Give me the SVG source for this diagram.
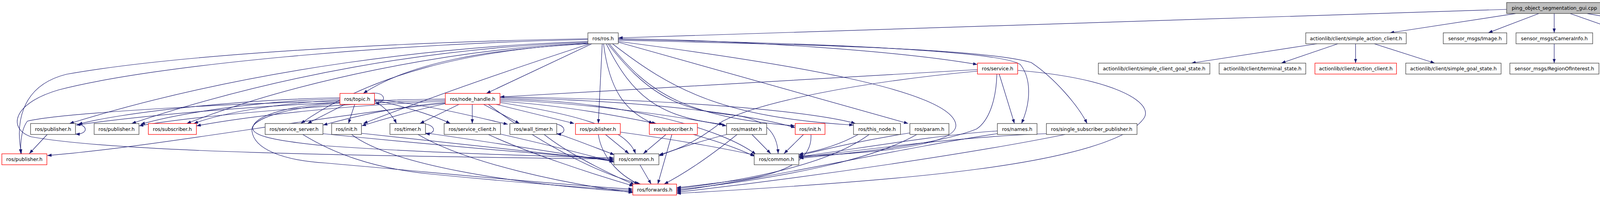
<svg xmlns="http://www.w3.org/2000/svg" width="6200" height="504" viewBox="0 0 6200 504">
<defs>
<marker id="a" viewBox="0 0 11 8" refX="11" refY="4" markerWidth="11" markerHeight="8" markerUnits="userSpaceOnUse" orient="auto"><path d="M0,0L11,4L0,8z" fill="#191970"/></marker>
</defs>
<style>
.n rect{fill:#fff;stroke:#404040;stroke-width:1.3}
.n.r rect{stroke:#ff0000}
.n.g rect{stroke:#bfbfbf}
.n.root rect{fill:#bfbfbf}
.n text{font-family:"DejaVu Sans","Liberation Sans",sans-serif;font-size:12.6px;text-anchor:middle;fill:#000}
#edges path{fill:none;stroke:#191970;stroke-width:1.2;marker-end:url(#a)}
</style>
<rect width="6200" height="504" fill="#fff"/>
<g id="edges">
<path d="M3857,24L1583,97"/>
<path d="M3880,34.7L3558,84"/>
<path d="M3939,34.7L3810,84"/>
<path d="M3978.7,34.7L3978.7,84"/>
<path d="M4020,34.7L4160,84"/>
<path d="M4063,34.7L4350,84"/>
<path d="M4101,29L4832,84"/>
<path d="M3978.7,112L3978.7,161.5"/>
<path d="M4200,112L4204,161.5"/>
<path d="M3371.7,112L3050,161.5"/>
<path d="M3425,112L3280,161.5"/>
<path d="M3470.3,112L3470.3,161.5"/>
<path d="M3518,112L3673,161.5"/>
<path d="M4963,112L4830,161.5"/>
<path d="M5052,112L5190,161.5"/>
<path d="M5140,112L5572,161.5"/>
<path d="M1505,99C1000,108 450,140 170,190C50,220 40,320 55,393"/>
<path d="M1505,101C1000,112 400,165 150,230C30,265 20,330 80,350C300,390 900,398 1571,407"/>
<path d="M1505,106C1150,118 650,170 178,316"/>
<path d="M1505,108C1100,122 700,195 337,316"/>
<path d="M1505,110C1150,125 750,210 478,316"/>
<path d="M1505,111C1200,128 950,190 770,316"/>
<path d="M1510,112C1300,180 1100,250 930,316"/>
<path d="M1507,112C1250,125 1050,160 930,239"/>
<path d="M1515,112L1245,239"/>
<path d="M1541.7,112L1531.7,316"/>
<path d="M1545,112C1560,230 1600,285 1672,316"/>
<path d="M1552,112C1620,250 1690,300 1852,318"/>
<path d="M1556,112C1650,230 1720,280 1880,295C1960,305 1990,340 1992,393"/>
<path d="M1560,112C1660,240 1760,300 2035,322"/>
<path d="M1568,112C1720,230 1850,300 2185,320"/>
<path d="M1583,108L2325,316"/>
<path d="M1583,106C2000,160 2440,230 2447,320C2450,370 2250,392 2045,400"/>
<path d="M1583,99C1900,103 2300,130 2502,165"/>
<path d="M1583,101C2100,110 2560,130 2612,165C2640,200 2640,260 2615,316"/>
<path d="M1583,103C2100,115 2520,125 2640,160C2700,200 2760,270 2783,316"/>
<path d="M870,250C600,255 300,290 200,318"/>
<path d="M870,253C650,258 450,292 360,318"/>
<path d="M870,256C700,264 560,292 496,316"/>
<path d="M870,259C600,263 150,290 70,310C55,330 52,360 53,393"/>
<path d="M883,267L787,316"/>
<path d="M908,267L892,316"/>
<path d="M946,239C990,232 992,264 959,264"/>
<path d="M959,258C985,275 1005,295 1015,316"/>
<path d="M959,256C1050,275 1120,300 1153,316"/>
<path d="M959,254C1100,268 1220,300 1300,318"/>
<path d="M870,262C720,272 650,300 647,327C645,347 700,360 833,373C1100,392 1400,400 1571,404"/>
<path d="M870,264C700,280 640,310 645,335C650,380 720,410 833,417C1100,440 1400,470 1620,484"/>
<path d="M1175,267L1075,316"/>
<path d="M1209,267L1209,316"/>
<path d="M1238,267L1330,316"/>
<path d="M1270,267L1470,316"/>
<path d="M1140,253C800,258 400,290 195,320"/>
<path d="M1140,256C900,262 500,296 356,322"/>
<path d="M1140,259C900,268 650,295 503,322"/>
<path d="M1140,262C1000,275 900,300 827,320"/>
<path d="M1140,265C1050,285 980,305 926,322"/>
<path d="M1140,264C800,300 400,375 121,398"/>
<path d="M1280,259C1450,270 1600,300 1680,316"/>
<path d="M1280,262C1450,290 1600,320 1627,393"/>
<path d="M1250,267C1400,380 1550,450 1640,471"/>
<path d="M1280,256C1500,262 1750,300 1860,322"/>
<path d="M1280,253C1600,258 1850,330 1935,395"/>
<path d="M1280,250C1700,258 1950,300 2036,327"/>
<path d="M1280,248C1800,255 2100,290 2190,316"/>
<path d="M121,344L75,393"/>
<path d="M185,316C228,316 228,344 193,343"/>
<path d="M775,344C850,390 950,430 1100,445C1300,465 1500,480 1620,488"/>
<path d="M826,342C1100,370 1400,395 1571,408"/>
<path d="M925,341C1200,372 1450,398 1571,411"/>
<path d="M900,344C1000,420 1300,470 1620,491"/>
<path d="M1089,340C1300,370 1450,395 1571,413"/>
<path d="M1070,344C1200,420 1450,470 1620,493"/>
<path d="M1080,316C1118,318 1118,344 1089,342"/>
<path d="M1281,343C1400,370 1500,395 1571,415"/>
<path d="M1250,344C1350,390 1500,440 1622,476"/>
<path d="M1425,341C1480,360 1530,380 1573,396"/>
<path d="M1393,344C1450,390 1550,440 1625,473"/>
<path d="M1410,316C1452,316 1452,344 1425,343"/>
<path d="M1550,344L1610,393"/>
<path d="M1531.7,344C1540,400 1583,447 1635,471"/>
<path d="M1588,338C1750,360 1880,385 1932,397"/>
<path d="M1705,344L1647,393"/>
<path d="M1720,344L1684,471"/>
<path d="M1775,344C1850,365 1900,385 1932,400"/>
<path d="M1860,344C1780,365 1720,385 1687,399"/>
<path d="M1887,344C1830,390 1760,440 1700,471"/>
<path d="M1925,344L1973,393"/>
<path d="M1638,421L1667,471"/>
<path d="M2057,344L2007,393"/>
<path d="M2076,344C2080,400 2030,440 1900,460C1800,472 1760,478 1732,480"/>
<path d="M2197,344C2150,370 2100,385 2045,395"/>
<path d="M2225,344C2150,400 2000,450 1732,483"/>
<path d="M2330,340C2200,360 2100,385 2045,398"/>
<path d="M2347,344C2250,400 2050,450 1732,486"/>
<path d="M2553,335C2400,345 2200,380 2045,401"/>
<path d="M2553,342C2300,380 2000,450 1732,489"/>
<path d="M2679,342C2450,350 2200,385 2045,403"/>
<path d="M2727,344C2500,390 2100,450 1732,492"/>
<path d="M2558,189.5L2597,316"/>
<path d="M2552,189.5C2550,260 2530,310 2500,330C2400,370 2200,390 2046,405"/>
<path d="M2605,180C2850,200 2950,260 2930,300C2880,380 2600,420 2500,433C2300,460 2000,480 1732,495"/>
<path d="M2502,178C2200,195 1700,225 1280,248"/>
<path d="M2502,182C2200,210 1950,260 1850,310C1800,350 1750,380 1687,396"/>
<path d="M4758,189.5L4684,239"/>
<path d="M4781,189.5L4772,239"/>
<path d="M4812,189.5L4893,239"/>
<path d="M4828,189.5L4975,239"/>
<path d="M4858,189.5L5082,239"/>
<path d="M4872,189.5L5165,239"/>
<path d="M4932,189.5L5420,239"/>
<path d="M4950,189.5L5625,240"/>
<path d="M4970,189.5L5760,240"/>
<path d="M4985,189.5L5885,240"/>
<path d="M5050,189.5L4677,243"/>
<path d="M5070,189.5L4834,243"/>
<path d="M5100,189.5L4955,240"/>
<path d="M5180,189.5L5040,240"/>
<path d="M5205,189.5L5122,240"/>
<path d="M5235,189.5L5242,239"/>
<path d="M5282,189.5L5438,239"/>
<path d="M5340,189.5L5630,240"/>
<path d="M5390,189.5L5772,240"/>
<path d="M5430,189.5L5890,240"/>
<path d="M5478,189.5L4678,245"/>
<path d="M5500,189.5L4835,246"/>
<path d="M5520,189.5L4958,243"/>
<path d="M5540,189.5L5042,242"/>
<path d="M5565,189.5L5124,243"/>
<path d="M5590,189.5L5348,242"/>
<path d="M5610,189.5L5533,239"/>
<path d="M5688,189.5L5661,239"/>
<path d="M5715,189.5L5778,239"/>
<path d="M5740,189.5L5877,239"/>
<path d="M4812,108C4600,125 4460,150 4470,190C4480,230 4560,245 4626,247"/>
<path d="M4812,109C4600,128 4465,155 4480,195C4500,230 4600,236 4705,239"/>
<path d="M4812,110C4620,130 4475,160 4490,198C4510,232 4700,237 4890,239"/>
<path d="M4815,111C4630,133 4490,165 4505,200C4520,232 4800,237 4985,239"/>
<path d="M4823,112C4650,135 4540,160 4555,180C4570,215 4900,235 5075,239"/>
<path d="M5204,105C5700,125 6000,140 6050,175C6070,200 6000,225 5972,241"/>
<path d="M5204,107C5700,127 5980,145 5985,180C5985,210 5900,225 5845,239"/>
<path d="M5204,109C5700,130 5940,150 5944,178C5945,210 5760,225 5698,243"/>
<path d="M5204,111C5800,140 6000,165 6092,193C6100,197 6000,197 5950,200C5800,215 5650,230 5586,243"/>
<path d="M5204,113C5700,140 5960,160 5990,185C6000,200 5500,225 5348,243"/>
<path d="M4812,239C4870,234 4868,268 4835,266"/>
<path d="M5330,239C5385,236 5380,268 5348,266"/>
<path d="M5686,239C5725,240 5725,268 5698,266"/>
</g>
<g id="root" class="n root"><rect x="3857" y="6.5" width="244.3" height="28"/><text x="3979.2" y="25">ping_object_segmentation_gui.cpp</text></g>
<g id="rosh" class="n"><rect x="1505" y="84" width="77.7" height="28"/><text x="1543.9" y="102.5">ros/ros.h</text></g>
<g id="sac" class="n"><rect x="3342.7" y="84" width="257.3" height="28"/><text x="3471.4" y="102.5">actionlib/client/simple_action_client.h</text></g>
<g id="img" class="n"><rect x="3694.7" y="84" width="162.6" height="28"/><text x="3776" y="102.5">sensor_msgs/Image.h</text></g>
<g id="cam" class="n"><rect x="3881" y="84" width="196.3" height="28"/><text x="3979.2" y="102.5">sensor_msgs/CameraInfo.h</text></g>
<g id="pc2" class="n"><rect x="4099.7" y="84" width="199" height="28"/><text x="4199.2" y="102.5">sensor_msgs/PointCloud2.h</text></g>
<g id="disp" class="n"><rect x="4321" y="84" width="216.3" height="28"/><text x="4429.2" y="102.5">stereo_msgs/DisparityImage.h</text></g>
<g id="act" class="n"><rect x="4811.7" y="84" width="392.3" height="28"/><text x="5007.9" y="102.5">object_segmentation_gui/ObjectSegmentationGuiAction.h</text></g>
<g id="service" class="n r"><rect x="2502.3" y="161.5" width="103" height="28"/><text x="2553.8" y="180">ros/service.h</text></g>
<g id="scgs" class="n"><rect x="2811.7" y="161.5" width="285.6" height="28"/><text x="2954.5" y="180">actionlib/client/simple_client_goal_state.h</text></g>
<g id="term" class="n"><rect x="3121" y="161.5" width="221.7" height="28"/><text x="3231.9" y="180">actionlib/client/terminal_state.h</text></g>
<g id="ac" class="n r"><rect x="3366.3" y="161.5" width="208.7" height="28"/><text x="3470.7" y="180">actionlib/client/action_client.h</text></g>
<g id="sgs" class="n"><rect x="3598.7" y="161.5" width="244" height="28"/><text x="3720.7" y="180">actionlib/client/simple_goal_state.h</text></g>
<g id="roi" class="n"><rect x="3865.3" y="161.5" width="228" height="28"/><text x="3979.3" y="180">sensor_msgs/RegionOfInterest.h</text></g>
<g id="pf" class="n"><rect x="4115.7" y="161.5" width="183.3" height="28"/><text x="4207.4" y="180">sensor_msgs/PointField.h</text></g>
<g id="goal" class="n r"><rect x="4574.3" y="161.5" width="420.4" height="28"/><text x="4784.5" y="180">object_segmentation_gui/ObjectSegmentationGuiActionGoal.h</text></g>
<g id="result" class="n r"><rect x="5017" y="161.5" width="429.7" height="28"/><text x="5231.9" y="180">object_segmentation_gui/ObjectSegmentationGuiActionResult.h</text></g>
<g id="feedback" class="n r"><rect x="5470.3" y="161.5" width="451.7" height="28"/><text x="5696.2" y="180">object_segmentation_gui/ObjectSegmentationGuiActionFeedback.h</text></g>
<g id="topic" class="n r"><rect x="870.3" y="239" width="88.4" height="28"/><text x="914.5" y="257.5">ros/topic.h</text></g>
<g id="nh" class="n r"><rect x="1140" y="239" width="140" height="28"/><text x="1210" y="257.5">ros/node_handle.h</text></g>
<g id="map" class="n g"><rect x="4626.7" y="239" width="50.6" height="28"/><text x="4652" y="257.5">map</text></g>
<g id="ser" class="n r"><rect x="4701" y="239" width="133.7" height="28"/><text x="4767.9" y="257.5">ros/serialization.h</text></g>
<g id="ostream" class="n g"><rect x="4882.7" y="239" width="76" height="28"/><text x="4920.7" y="257.5">ostream</text></g>
<g id="vector" class="n g"><rect x="4981" y="239" width="61.7" height="28"/><text x="5011.9" y="257.5">vector</text></g>
<g id="string" class="n g"><rect x="5066.7" y="239" width="57.6" height="28"/><text x="5095.5" y="257.5">string</text></g>
<g id="bmt" class="n"><rect x="5146.7" y="239" width="201.3" height="28"/><text x="5247.4" y="257.5">ros/builtin_message_traits.h</text></g>
<g id="mo" class="n"><rect x="5394.3" y="239" width="191.7" height="28"/><text x="5490.2" y="257.5">ros/message_operations.h</text></g>
<g id="time" class="n r"><rect x="5611.3" y="239" width="87" height="28"/><text x="5654.8" y="257.5">ros/time.h</text></g>
<g id="macros" class="n"><rect x="5745" y="239" width="105.8" height="28"/><text x="5797.9" y="257.5">ros/macros.h</text></g>
<g id="assert" class="n r"><rect x="5873.7" y="239" width="98.3" height="28"/><text x="5922.9" y="257.5">ros/assert.h</text></g>
<g id="pubA" class="n"><rect x="78.3" y="316" width="115" height="28"/><text x="135.8" y="334.5">ros/publisher.h</text></g>
<g id="pubB" class="n"><rect x="241" y="316" width="114.7" height="28"/><text x="298.4" y="334.5">ros/publisher.h</text></g>
<g id="subR" class="n r"><rect x="379.7" y="316" width="123" height="28"/><text x="441.2" y="334.5">ros/subscriber.h</text></g>
<g id="ss" class="n"><rect x="678.7" y="316" width="148" height="28"/><text x="752.7" y="334.5">ros/service_server.h</text></g>
<g id="initB" class="n"><rect x="849" y="316" width="76.3" height="28"/><text x="887.2" y="334.5">ros/init.h</text></g>
<g id="timer" class="n"><rect x="998.3" y="316" width="91" height="28"/><text x="1043.8" y="334.5">ros/timer.h</text></g>
<g id="sc" class="n"><rect x="1137" y="316" width="144.3" height="28"/><text x="1209.2" y="334.5">ros/service_client.h</text></g>
<g id="wt" class="n"><rect x="1305.3" y="316" width="120" height="28"/><text x="1365.3" y="334.5">ros/wall_timer.h</text></g>
<g id="pubR2" class="n r"><rect x="1473.3" y="316" width="114.7" height="28"/><text x="1530.7" y="334.5">ros/publisher.h</text></g>
<g id="subR2" class="n r"><rect x="1662.3" y="316" width="123" height="28"/><text x="1723.8" y="334.5">ros/subscriber.h</text></g>
<g id="master" class="n"><rect x="1860" y="316" width="102.7" height="28"/><text x="1911.4" y="334.5">ros/master.h</text></g>
<g id="initR" class="n r"><rect x="2035.7" y="316" width="76.3" height="28"/><text x="2073.9" y="334.5">ros/init.h</text></g>
<g id="tn" class="n"><rect x="2185" y="316" width="120.3" height="28"/><text x="2245.2" y="334.5">ros/this_node.h</text></g>
<g id="param" class="n"><rect x="2329.3" y="316" width="100" height="28"/><text x="2379.3" y="334.5">ros/param.h</text></g>
<g id="names" class="n"><rect x="2553.3" y="316" width="101.4" height="28"/><text x="2604" y="334.5">ros/names.h</text></g>
<g id="ssp" class="n"><rect x="2678.7" y="316" width="232" height="28"/><text x="2794.7" y="334.5">ros/single_subscriber_publisher.h</text></g>
<g id="pubR" class="n r"><rect x="4.7" y="393.5" width="115.3" height="28"/><text x="62.4" y="412">ros/publisher.h</text></g>
<g id="com1" class="n"><rect x="1571.7" y="393.5" width="115" height="28"/><text x="1629.2" y="412">ros/common.h</text></g>
<g id="com2" class="n"><rect x="1930.7" y="393.5" width="114.3" height="28"/><text x="1987.9" y="412">ros/common.h</text></g>
<g id="fwd" class="n r"><rect x="1620" y="471" width="112" height="28"/><text x="1676" y="489.5">ros/forwards.h</text></g>
</svg>
